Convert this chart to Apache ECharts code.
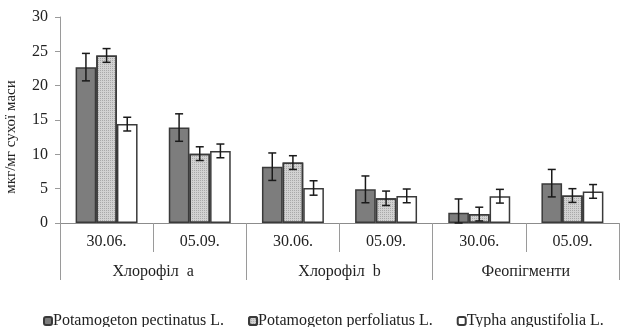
<!DOCTYPE html>
<html>
<head>
<meta charset="utf-8">
<script src="https://cdn.jsdelivr.net/npm/echarts@6/dist/echarts.min.js"></script>
<style>
  html, body { margin: 0; padding: 0; background: #fff; }
  #chart { width: 620px; height: 327px; }
</style>
</head>
<body>
<div id="chart"></div>
<script>
const dates = ['30.06.', '05.09.', '30.06.', '05.09.', '30.06.', '05.09.'];
const groups = ['Хлорофіл  a', 'Хлорофіл  b', 'Феопігменти'];
const yTicks = [0, 30, 5];

const seriesNames = ['Potamogeton pectinatus L.', 'Potamogeton perfoliatus L.', 'Typha angustifolia L.'];
const pectinatus = [22.7, 13.9, 8.2, 4.9, 1.5, 5.8];
const perfoliatus = [24.4, 10.1, 8.8, 3.6, 1.3, 4.0];
const typha = [14.4, 10.5, 5.1, 3.95, 3.9, 4.6];
const pectinatusErr = [2.0, 2.0, 2.0, 1.95, 2.0, 2.0];
const perfoliatusErr = [1.0, 1.0, 1.0, 1.05, 1.0, 1.0];
const typhaErr = [1.0, 1.0, 1.05, 1.0, 1.0, 1.0];

const GAP = 0.335;
const font = '"Liberation Serif", "Times New Roman", serif';

function errorRenderer(k) {
    return function (params, api) {
        const idx = api.value(0);
        const val = api.value(1);
        const err = api.value(2);
        const band = api.size([1, 0])[0];
        const groupW = band * (1 - GAP);
        const barW = groupW / 3;
        const cx = api.coord([idx, 0])[0] - groupW / 2 + barW * (k + 0.5);
        const hi = api.coord([idx, val + err])[1];
        const lo = api.coord([idx, Math.max(0, val - err)])[1];
        const cap = 4;
        const style = { stroke: '#1a1a1a', lineWidth: 1.5 };
        return {
            type: 'group',
            children: [
                { type: 'line', shape: { x1: cx, y1: hi, x2: cx, y2: lo }, style: style },
                { type: 'line', shape: { x1: cx - cap, y1: hi, x2: cx + cap, y2: hi }, style: style },
                { type: 'line', shape: { x1: cx - cap, y1: lo, x2: cx + cap, y2: lo }, style: style }
            ]
        };
    };
}

function errorSeries(values, errs, k) {
    return {
        type: 'custom',
        xAxisIndex: 0,
        renderItem: errorRenderer(k),
        encode: { x: 0, y: 1 },
        data: values.map((v, i) => [i, v, errs[i]]),
        z: 10,
        silent: true
    };
}

const barStyles = [
    { color: '#7d7d7d', borderColor: '#3a3a3a', borderWidth: 1.5 },
    {
        color: '#d2d2d2', borderColor: '#3a3a3a', borderWidth: 1.5,
        decal: { symbol: 'rect', symbolSize: 1, color: 'rgba(120,120,120,0.45)', dashArrayX: [1, 1], dashArrayY: [1, 1], rotation: 0 }
    },
    { color: '#ffffff', borderColor: '#3a3a3a', borderWidth: 1.5 }
];

const chart = echarts.init(document.getElementById('chart'));
chart.setOption({
    animation: false,
    backgroundColor: '#fff',
    grid: { left: 60, right: 1, top: 17, bottom: 104, containLabel: false, outerBoundsMode: 'none' },
    legend: {
        data: seriesNames,
        left: 38,
        top: 308,
        itemGap: 24,
        itemWidth: 8,
        itemHeight: 8,
        textStyle: { fontFamily: font, fontSize: 16, color: '#222', padding: [0, 0, 0, -4] }
    },
    xAxis: [
        {
            type: 'category',
            position: 'bottom',
            data: dates,
            axisLine: { lineStyle: { color: '#8c8c8c', width: 1 } },
            axisTick: { show: true, interval: 0, length: 29, lineStyle: { color: '#9a9a9a' } },
            axisLabel: { interval: 0, margin: 11, fontFamily: font, fontSize: 16, color: '#222' }
        },
        {
            type: 'category',
            position: 'bottom',
            data: groups,
            axisLine: { show: false },
            axisTick: { show: true, interval: 0, length: 57, lineStyle: { color: '#9a9a9a' } },
            axisLabel: { interval: 0, margin: 41, fontFamily: font, fontSize: 16, color: '#222' }
        }
    ],
    yAxis: {
        type: 'value',
        min: yTicks[0],
        max: yTicks[1],
        interval: yTicks[2],
        name: 'мкг/мг сухої маси',
        nameLocation: 'middle',
        nameGap: 41,
        nameTextStyle: { fontFamily: font, fontSize: 15, color: '#222', padding: [0, 34, 0, 0] },
        axisLine: { show: true, lineStyle: { color: '#9a9a9a' } },
        axisTick: { show: true, length: 5, lineStyle: { color: '#9a9a9a' } },
        splitLine: { show: false },
        axisLabel: { margin: 12, fontFamily: font, fontSize: 16, color: '#222' }
    },
    series: [
        { name: seriesNames[0], type: 'bar', data: pectinatus, barGap: '0%', barCategoryGap: (GAP * 100) + '%', itemStyle: barStyles[0] },
        { name: seriesNames[1], type: 'bar', data: perfoliatus, barGap: '0%', barCategoryGap: (GAP * 100) + '%', itemStyle: barStyles[1] },
        { name: seriesNames[2], type: 'bar', data: typha, barGap: '0%', barCategoryGap: (GAP * 100) + '%', itemStyle: barStyles[2] },
        errorSeries(pectinatus, pectinatusErr, 0),
        errorSeries(perfoliatus, perfoliatusErr, 1),
        errorSeries(typha, typhaErr, 2)
    ]
});
</script>
</body>
</html>
